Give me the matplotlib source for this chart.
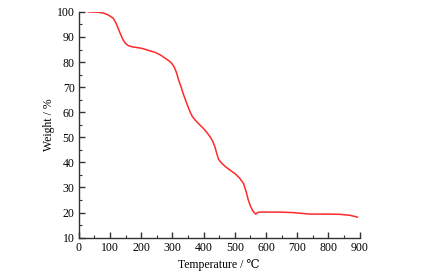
import matplotlib
matplotlib.use('Agg')
import matplotlib.pyplot as plt
from matplotlib.ticker import MultipleLocator

# TGA curve
temperature = [30, 62, 80, 94, 110, 118, 126, 134, 142, 150, 158, 170, 201,
               244, 262, 276, 287, 297, 305, 313, 320, 327, 334, 345, 356,
               364, 372, 385, 398, 410, 420, 429, 436, 442, 448, 458, 469,
               485, 501, 515, 528, 536, 543, 551, 559, 567, 573, 580, 640,
               687, 740, 800, 837, 870, 893]
weight = [100, 99.9, 99.5, 98.8, 97.5, 95.8, 93.5, 91.0, 88.8, 87.4, 86.6,
          86.1, 85.5, 83.9, 82.8, 81.6, 80.7, 79.6, 78.2, 75.8, 72.8, 70.4,
          67.6, 63.8, 60.3, 58.3, 57.0, 55.3, 53.7, 52.0, 50.3, 48.5, 46.3,
          43.6, 41.2, 39.7, 38.4, 36.9, 35.5, 33.8, 31.6, 28.5, 25.1, 22.3,
          20.4, 19.4, 20.0, 20.2, 20.2, 20.0, 19.4, 19.4, 19.3, 18.9, 18.2]

plt.rcParams['font.family'] = ['Liberation Serif', 'DejaVu Serif']

fig = plt.figure(figsize=(4.24, 2.77), dpi=100)
ax = fig.add_axes([0.186, 0.142, 0.662, 0.815])

ax.plot(temperature, weight, color='#ff2a2a', linewidth=1.1)

ax.set_xlim(0, 900)
ax.set_ylim(10, 100)
ax.xaxis.set_major_locator(MultipleLocator(100))
ax.xaxis.set_minor_locator(MultipleLocator(50))
ax.yaxis.set_major_locator(MultipleLocator(10))
ax.yaxis.set_minor_locator(MultipleLocator(5))

for side in ['top', 'right']:
    ax.spines[side].set_visible(False)
for side in ['left', 'bottom']:
    ax.spines[side].set_color('#333333')
    ax.spines[side].set_linewidth(1.0)

ax.tick_params(which='major', direction='in', length=4, width=1,
               color='#333333', labelsize=8.5, pad=3)
ax.tick_params(which='minor', direction='in', length=2, width=0.8,
               color='#333333')

ax.set_xlabel('Temperature / ℃', fontsize=8.5, labelpad=3.5)
ax.set_ylabel('Weight / %', fontsize=8.5, labelpad=1)

fig.savefig('out.png', dpi=100)
